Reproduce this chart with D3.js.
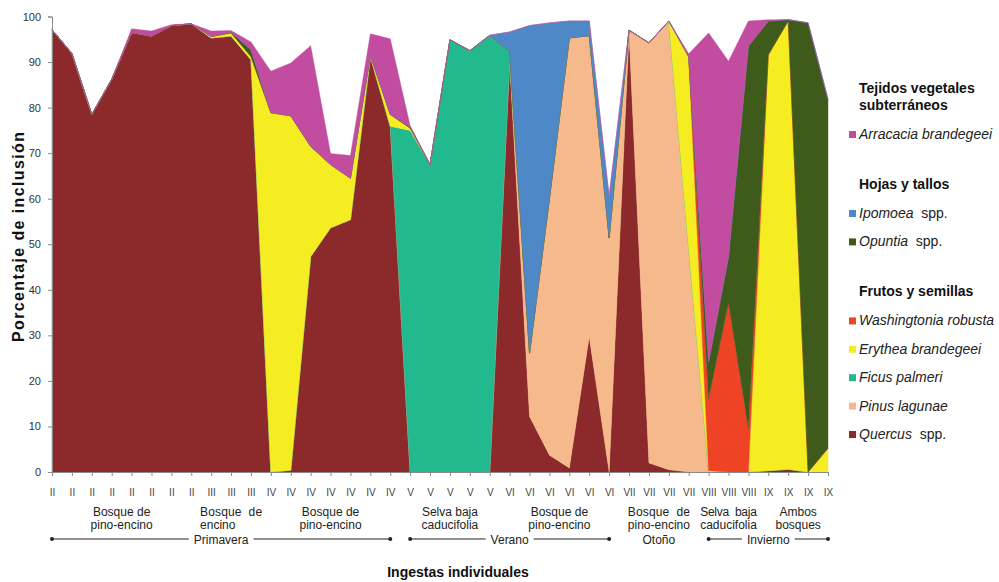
<!DOCTYPE html>
<html>
<head>
<meta charset="utf-8">
<script src="https://cdn.jsdelivr.net/npm/d3@7"></script>
<style>
  html, body { margin: 0; padding: 0; background: #fff; }
  svg { display: block; font-family: "Liberation Sans", Arial, sans-serif; }
</style>
</head>
<body>
<svg id="chart" width="999" height="582"></svg>
<script>
// Individual ingestions (month of each sample, in roman numerals)
const ingestas = ["II","II","II","II","II","II","II","II","III","III","III",
  "IV","IV","IV","IV","IV","IV","IV","V","V","V","V","V",
  "VI","VI","VI","VI","VI","VI","VII","VII","VII","VII",
  "VIII","VIII","VIII","IX","IX","IX","IX"];

// Percentage of inclusion of each plant taxon, per ingestion
const quercus = [97.1,91.9,78.5,86.2,96.5,95.7,98.0,98.4,95.3,95.7,90.5,
  0,0.4,47.3,53.6,55.4,91.2,75.9,0,0,0,0,0,
  89.8,12.2,3.7,0.9,29.7,0,96.3,2.0,0.5,0,
  0,0,0,0.3,0.6,0,0];
const pinus = [0,0,0,0,0,0,0,0,0,0,0,
  0,0,0,0,0,0,0,0,0,0,0,0,
  0.3,13.9,56.3,94.4,66.1,51.4,0.7,92.2,98.5,49.0,
  0,0,0,0,0,0,0];
const ficus = [0,0,0,0,0,0,0,0,0,0,0,
  0,0,0,0,0,0,0,75.0,67.5,94.9,92.5,95.8,
  2.3,0,0,0,0,0,0,0,0,0,
  0,0,0,0,0,0,0];
const erythea = [0,0,0,0,0,0,0,0,0.3,0.7,0.7,
  78.9,77.8,24.2,13.9,9.1,0.3,2.6,0.5,0,0,0,0,
  0,0,0,0,0,0,0,0,0,42.0,
  0.3,0,0,91.3,98.4,0,5.2];
const washingtonia = [0,0,0,0,0,0,0,0,0,0,0,
  0,0,0,0,0,0,0,0,0,0,0,0,
  0,0,0,0,0,0,0,0,0,0.3,
  15.8,37.1,9.5,0,0,0,0];
const opuntia = [0,0,0,0,0,0,0,0,0,0.2,1.5,
  0,0,0,0,0,0,0,0.3,0,0,0,0,
  0,0,0,0,0,0,0,0,0,0,
  8.1,10.2,84.0,7.4,0.3,98.6,76.6];
const ipomoea = [0,0,0,0,0,0,0,0,0,0,0,
  0,0,0,0,0,0,0,0,0,0,0,0.1,
  4.2,71.9,38.6,3.7,3.2,9.1,0,0,0,0,
  0,0,0,0,0,0,0];
const arracacia = [0,0,0,0,0.8,1.1,0.2,0,1.2,0.3,1.7,
  9.1,11.6,22.1,2.4,5.0,4.7,16.6,0.2,0,0,0,0,
  0,0,0,0,0,0,0,0,0,0.5,
  72.2,42.9,5.5,0.3,0,0,0];

// Y axis ticks
const yTicks = [0,10,20,30,40,50,60,70,80,90,100];

// Habitat labels under the axis: text lines and the ingestion span they cover
const habitatLines = [
  ["Bosque de", "pino-encino"],
  ["Bosque  de", "encino"],
  ["Bosque de", "pino-encino"],
  ["Selva baja", "caducifolia"],
  ["Bosque de", "pino-encino"],
  ["Bosque  de", "pino-encino"],
  ["Selva  baja", "caducifolia"],
  ["Ambos", "bosques"]
];
const habitatSpan = [[0,7],[8,10],[11,17],[18,22],[23,28],[29,32],[33,35],[36,39]];

// Seasons
const seasons = ["Primavera", "Verano", "Otoño", "Invierno"];
const seasonSpan = [[0,17],[18,28],[29,32],[33,39]];
const seasonArrows = [true, true, false, true];

// Series in stacking order (bottom to top)
const seriesKeys = ["quercus","pinus","ficus","erythea","washingtonia","opuntia","ipomoea","arracacia"];
const seriesValues = {quercus, pinus, ficus, erythea, washingtonia, opuntia, ipomoea, arracacia};
const seriesColors = {
  quercus: "#8c2a2b", pinus: "#f6b98c", ficus: "#23b98f", erythea: "#f5ec22",
  washingtonia: "#ee4325", opuntia: "#3f5b1c", ipomoea: "#4f88c7", arracacia: "#c24ca0"
};

// Legend groups: title lines, then entries [key, italic name, plain suffix]
const legendTitles = [["Tejidos vegetales", "subterráneos"], ["Hojas y tallos"], ["Frutos y semillas"]];
const legendEntries = [
  [["arracacia", "Arracacia brandegeei", ""]],
  [["ipomoea", "Ipomoea", "  spp."], ["opuntia", "Opuntia", "  spp."]],
  [["washingtonia", "Washingtonia robusta", ""], ["erythea", "Erythea brandegeei", ""],
   ["ficus", "Ficus palmeri", ""], ["pinus", "Pinus lagunae", ""], ["quercus", "Quercus", "  spp."]]
];

const svg = d3.select("#chart");

const x = d3.scaleLinear().domain([0, ingestas.length - 1]).range([52, 828]);
const y = d3.scaleLinear().domain([0, 100]).range([472, 16.5]);

const rows = ingestas.map((lab, i) => {
  const r = {i};
  seriesKeys.forEach(k => r[k] = seriesValues[k][i]);
  return r;
});
const stacked = d3.stack().keys(seriesKeys)(rows);

const area = d3.area()
  .x(d => x(d.data.i))
  .y0(d => y(d[0]))
  .y1(d => y(d[1]));

svg.append("g").selectAll("path")
  .data(stacked)
  .join("path")
  .attr("d", area)
  .attr("fill", d => seriesColors[d.key])
  .attr("stroke", d => seriesColors[d.key])
  .attr("stroke-width", 0.4)
  .attr("stroke-linejoin", "round");

// Y axis
const yAxis = svg.append("g")
  .attr("transform", `translate(${x(0)},0)`)
  .call(d3.axisLeft(y).tickValues(yTicks).tickSize(4).tickPadding(7).tickFormat(d3.format("d")));
yAxis.select(".domain").attr("stroke", "#8a8a8a");
yAxis.selectAll(".tick line").attr("stroke", "#8a8a8a");
yAxis.selectAll(".tick text").attr("font-size", 11).attr("fill", "#333")
  .attr("font-family", "Liberation Sans, Arial, sans-serif");

// X axis
const xAxis = svg.append("g")
  .attr("transform", `translate(0,${y(0)})`)
  .call(d3.axisBottom(x).tickValues(d3.range(ingestas.length)).tickSize(4).tickPadding(13)
    .tickFormat(i => ingestas[i]));
xAxis.select(".domain").attr("stroke", "#8a8a8a");
xAxis.selectAll(".tick line").attr("stroke", "#8a8a8a");
xAxis.selectAll(".tick text").attr("font-size", 10).attr("fill", "#444")
  .attr("font-family", "Liberation Sans, Arial, sans-serif");

// Habitat labels
const hab = svg.append("g").attr("font-size", 12).attr("fill", "#222").attr("text-anchor", "middle");
habitatLines.forEach((lines, gi) => {
  const cx = (x(habitatSpan[gi][0]) + x(habitatSpan[gi][1])) / 2;
  const t1 = hab.append("text").attr("x", cx).attr("y", 515.5)
    .style("white-space", "pre").text(lines[0]);
  const t2 = hab.append("text").attr("x", cx).attr("y", 529).text(lines[1]);
  const w2 = t2.node().getComputedTextLength();
  if (gi === 1) {
    // first line stretched, second line flush left
    t1.attr("textLength", 62).attr("lengthAdjust", "spacing");
    t2.attr("text-anchor", "start").attr("x", cx - 31);
  } else if (lines[0].includes("  ")) {
    // justified to the width of the line below
    t1.attr("textLength", w2).attr("lengthAdjust", "spacing");
  }
});

// Season labels with arrow lines
const sea = svg.append("g").attr("font-size", 12).attr("fill", "#222");
seasons.forEach((s, si) => {
  const x0 = x(seasonSpan[si][0]), x1 = x(seasonSpan[si][1]);
  const cx = (x0 + x1) / 2;
  const t = sea.append("text").attr("x", cx).attr("y", 543.5).attr("text-anchor", "middle").text(s);
  if (seasonArrows[si]) {
    const w = t.node().getComputedTextLength();
    const ly = 539;
    [[x0, cx - w / 2 - 5], [cx + w / 2 + 5, x1]].forEach(([a, b]) => {
      sea.append("line").attr("x1", a).attr("x2", b).attr("y1", ly).attr("y2", ly)
        .attr("stroke", "#222").attr("stroke-width", 1);
    });
    [x0, x1].forEach(px => sea.append("circle").attr("cx", px).attr("cy", ly).attr("r", 2).attr("fill", "#222"));
  }
});

// Axis titles
svg.append("text")
  .attr("x", 458).attr("y", 577)
  .attr("text-anchor", "middle").attr("font-size", 14).attr("font-weight", "bold").attr("fill", "#111")
  .text("Ingestas individuales");

svg.append("text")
  .attr("transform", "translate(24,237) rotate(-90)")
  .attr("text-anchor", "middle").attr("font-size", 16).attr("font-weight", "bold").attr("fill", "#111")
  .attr("textLength", 210).attr("lengthAdjust", "spacing")
  .text("Porcentaje de inclusión");

// Legend
const leg = svg.append("g");
let cy = 93;
legendTitles.forEach((titleLines, gi) => {
  titleLines.forEach((line, li) => {
    leg.append("text").attr("x", 859).attr("y", cy + li * 17)
      .attr("font-size", 14).attr("font-weight", "bold").attr("fill", "#111").text(line);
  });
  cy += (titleLines.length - 1) * 17 + 29;
  legendEntries[gi].forEach(([key, name, suffix], ei) => {
    leg.append("rect").attr("x", 849).attr("y", cy - 8).attr("width", 7).attr("height", 7)
      .attr("fill", seriesColors[key]);
    const t = leg.append("text").attr("x", 859).attr("y", cy).attr("font-size", 14)
      .attr("fill", "#222").style("white-space", "pre");
    t.append("tspan").attr("font-style", "italic").text(name);
    if (suffix) t.append("tspan").text(suffix);
    if (ei < legendEntries[gi].length - 1) cy += 28.4;
  });
  cy += 50;
});
</script>
</body>
</html>
